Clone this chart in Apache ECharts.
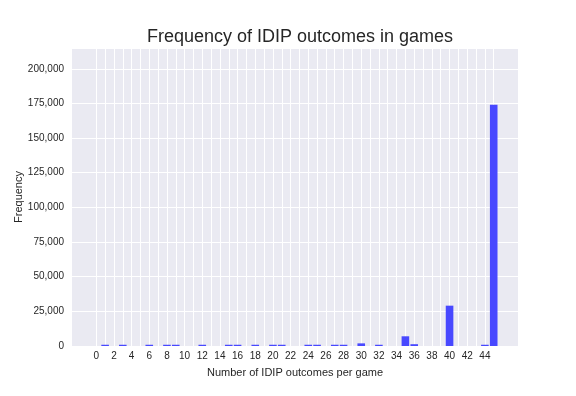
<!DOCTYPE html>
<html>
<head>
<meta charset="utf-8">
<script src="https://cdn.jsdelivr.net/npm/echarts@6/dist/echarts.min.js"></script>
<style>
  html, body { margin: 0; padding: 0; background: #fff; }
</style>
</head>
<body>
<div id="main" style="width: 576px; height: 396px"></div>
<script>
// number of IDIP outcomes per game -> number of games
const outcomes = [1, 3, 6, 8, 9, 12, 15, 16, 18, 20, 21, 24, 25, 27, 28, 30, 32, 35, 36, 40, 44, 45];
const games = [900, 900, 900, 900, 900, 900, 900, 900, 900, 900, 900, 900, 900, 900, 900, 1900, 900, 7000, 1300, 29100, 900, 174000];
const xTicks = [0, 2, 4, 6, 8, 10, 12, 14, 16, 18, 20, 22, 24, 26, 28, 30, 32, 34, 36, 38, 40, 42, 44];
const gridLines = Array.from({ length: 46 }, (_, i) => i);

const textColor = "#262626";
const font = "Liberation Sans";
const myChart = echarts.init(document.getElementById("main"));

const option = {
  title: {
    text: "Frequency of IDIP outcomes in games",
    left: 295,
    top: 23,
    textAlign: "center",
    textStyle: { fontFamily: font, fontSize: 18, fontWeight: "normal", color: textColor },
  },
  grid: {
    left: 72, right: 58, top: 48, bottom: 50,
    containLabel: false,
    outerBoundsMode: "none",
    show: true, backgroundColor: "#eaeaf2", borderWidth: 0,
  },
  xAxis: {
    type: "value",
    min: -2.75,
    max: 47.75,
    interval: 0.25,
    name: "Number of IDIP outcomes per game",
    nameLocation: "middle",
    nameGap: 21,
    nameTextStyle: { fontFamily: font, fontSize: 11, color: textColor },
    axisLine: { show: false },
    axisTick: { show: false },
    splitLine: { show: false },
    axisLabel: {
      margin: 5,
      fontFamily: font,
      fontSize: 10,
      color: textColor,
      formatter: (v) => (xTicks.indexOf(v) >= 0 ? String(v) : ""),
    },
  },
  yAxis: {
    type: "value",
    min: 0,
    max: 215000,
    interval: 25000,
    name: "Frequency",
    nameLocation: "middle",
    nameGap: 48,
    nameMoveOverlap: false,
    nameTextStyle: { fontFamily: font, fontSize: 11, color: textColor },
    axisLine: { show: false },
    axisTick: { show: false },
    splitLine: { lineStyle: { color: "#ffffff", width: 1 } },
    axisLabel: {
      margin: 8,
      fontFamily: font,
      fontSize: 10,
      color: textColor,
      showMaxLabel: false,
      formatter: (v) => v.toLocaleString("en-US"),
    },
  },
  series: [
    {
      type: "bar",
      data: outcomes.map((x, i) => [x, games[i]]),
      barWidth: 7.6,
      z: 3,
      itemStyle: { color: "#4848ff", borderWidth: 0 },
      markLine: {
        silent: true,
        symbol: "none",
        z: 1,
        label: { show: false },
        lineStyle: { color: "#ffffff", width: 1, type: "solid" },
        data: gridLines.map((x) => ({ xAxis: x })),
      },
    },
  ],
  animation: false,
};
myChart.setOption(option);
</script>
</body>
</html>
